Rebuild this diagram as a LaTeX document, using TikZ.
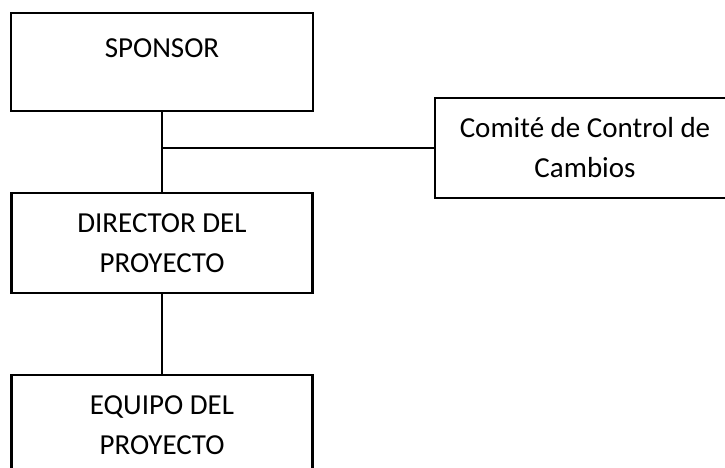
\documentclass[tikz,border=0pt]{standalone}
\usepackage{fontspec}
\setmainfont{Carlito}
\usetikzlibrary{positioning}

\begin{document}
\begin{tikzpicture}
    [
        x=1pt, y=-1pt,
        OrgBox/.style={rectangle,minimum width=301pt,minimum height=100pt,draw,line width=2.1pt,inner sep=1pt,align=center,font=\fontsize{29pt}{40pt}\selectfont},
        Link/.style={line width=2.1pt}
    ]
    \useasboundingbox (0,0) rectangle (725,467);
    \node[OrgBox,minimum width=302pt,minimum height=0pt,inner sep=0pt,text height=44pt,text depth=54pt] (sponsor) at (162,62) {SPONSOR};
    \node[OrgBox] (directorProyecto) at (162,243) {DIRECTOR DEL\\PROYECTO};
    \node[OrgBox,below=80pt of directorProyecto] (equipoProyecto) {EQUIPO DEL\\PROYECTO};
    \node[OrgBox,minimum width=300pt] (comiteCambios) at (585,148) {Comité de Control de\\Cambios};

    \coordinate (junction) at (sponsor.south |- comiteCambios.west);
    \draw[Link] (sponsor.south) -- (directorProyecto.north);
    \draw[Link] (junction) -- (comiteCambios.west);
    \draw[Link] (directorProyecto.south) -- (equipoProyecto.north);
\end{tikzpicture}
\end{document}
